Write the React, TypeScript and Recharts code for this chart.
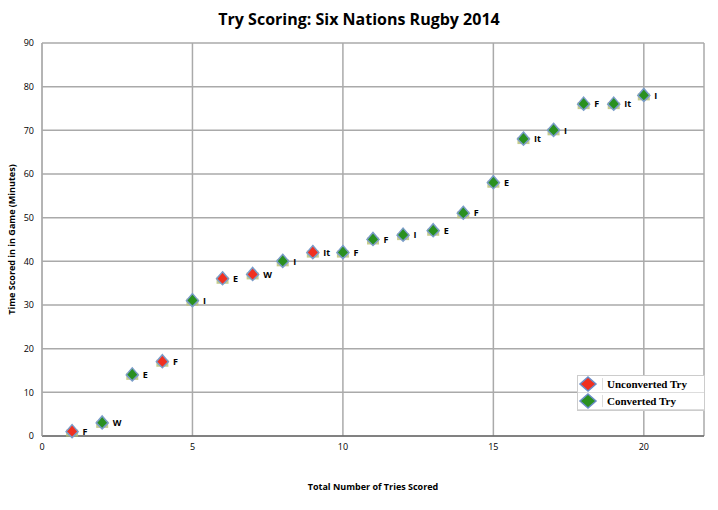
import React from "react";
import { ScatterChart, Scatter, XAxis, YAxis, CartesianGrid, LabelList } from "recharts";

const tries = [1,2,3,4,5,6,7,8,9,10,11,12,13,14,15,16,17,18,19,20];
const minutes = [1,3,14,17,31,36,37,40,42,42,45,46,47,51,58,68,70,76,76,78];
const converted = [false,true,true,false,true,false,false,true,false,true,true,true,true,true,true,true,true,true,true,true];
const teams = ["F","W","E","F","I","E","W","I","It","F","F","I","E","F","E","It","I","F","It","I"];
const xTicks = [0,5,10,15,20];
const yTicks = [0,10,20,30,40,50,60,70,80,90];

const all = tries.map((x, i) => ({ x, y: minutes[i], team: teams[i], conv: converted[i] }));
const unconv = all.filter(d => !d.conv);
const conv = all.filter(d => d.conv);

const Diamond = (color: string) => (p: any) => {
  const { cx, cy } = p;
  if (cx == null || cy == null) return null;
  const r = 6;
  return (
    <g>
      <rect x={cx - 6} y={cy - 2} width={12} height={7} fill="#b8c070" opacity={0.8} />
      <path d={`M${cx},${cy - r - 1} L${cx + r},${cy} L${cx},${cy + r} L${cx - r},${cy} Z`} fill={color} stroke="#7a9cc8" strokeWidth={1.5} />
    </g>
  );
};

const LegendBox = () => (
  <div style={{ position: "absolute", left: 577, top: 375, width: 126, border: "1px solid #ccc", background: "#fff", fontFamily: "'Liberation Serif', serif", fontWeight: "bold", fontSize: 11 }}>
    {[["#f03020", "Unconverted Try"], ["#2a9020", "Converted Try"]].map(([c, t]) => (
      <div key={t} style={{ display: "flex", alignItems: "center", height: 16, borderBottom: "1px solid #ddd" }}>
        <svg width={20} height={16}><path d="M10,1 L18,8 L10,15 L2,8 Z" fill={c} stroke="#6a8cc8" strokeWidth={1.5} /></svg>
        <span style={{ marginLeft: 4, borderLeft: "1px solid #ddd", paddingLeft: 4 }}>{t}</span>
      </div>
    ))}
  </div>
);

export default function App() {
  const lbl = { position: "right" as const, offset: 6, style: { fontFamily: "'Open Sans', sans-serif", fontWeight: "bold", fontSize: 9, fill: "#000" } };
  return (
    <div style={{ position: "absolute", left: 0, top: 0, width: 718, height: 510, background: "#fff" }}>
      <div style={{ position: "absolute", top: 8, width: 718, textAlign: "center", fontFamily: "'Open Sans', sans-serif", fontWeight: "bold", fontSize: 16 }}>Try Scoring: Six Nations Rugby 2014</div>
      <ScatterChart width={718} height={510} margin={{ top: 43, right: 14, bottom: 44, left: 2 }}>
        <CartesianGrid stroke="#aaa" strokeWidth={1.5} />
        <XAxis type="number" dataKey="x" domain={[0, 22]} ticks={xTicks} tickLine={false} stroke="#444" tick={{ fontSize: 9, fill: "#000", fontFamily: "'Open Sans', sans-serif" }}
          label={{ value: "Total Number of Tries Scored", position: "insideBottom", offset: -24, style: { fontSize: 9, fontWeight: "bold", fill: "#000", fontFamily: "'Open Sans', sans-serif" } }} />
        <YAxis type="number" dataKey="y" domain={[0, 90]} ticks={yTicks} tickLine={false} stroke="#aaa" width={40} tick={{ fontSize: 9, fill: "#000", fontFamily: "'Open Sans', sans-serif" }}
          label={{ value: "Time Scored in in Game (Minutes)", angle: -90, position: "insideLeft", offset: 10, style: { textAnchor: "middle", fontSize: 9, fontWeight: "bold", fill: "#000", fontFamily: "'Open Sans', sans-serif" } }} />
        <Scatter name="Unconverted Try" data={unconv} shape={Diamond("#f03020")} isAnimationActive={false}>
          <LabelList dataKey="team" {...lbl} />
        </Scatter>
        <Scatter name="Converted Try" data={conv} shape={Diamond("#2a9020")} isAnimationActive={false}>
          <LabelList dataKey="team" {...lbl} />
        </Scatter>
      </ScatterChart>
      <LegendBox />
    </div>
  );
}
